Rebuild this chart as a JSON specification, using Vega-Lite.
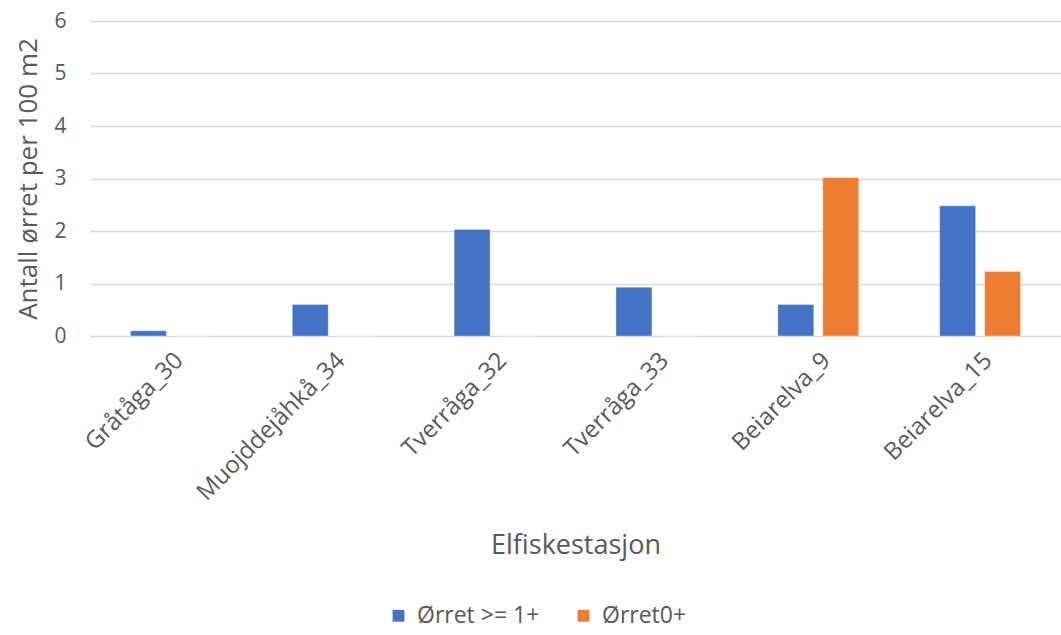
{
  "$schema": "https://vega.github.io/schema/vega-lite/v6.json",
  "width": 971,
  "height": 315,
  "autosize": {"type": "none"},
  "padding": {"left": 90, "top": 21, "right": 0, "bottom": 299},
  "background": "white",
  "config": {
    "font": "Open Sans",
    "view": {"stroke": null},
    "axis": {"labelColor": "#595959", "titleColor": "#595959", "labelFont": "Open Sans", "titleFont": "Open Sans", "titleFontWeight": "normal"}
  },
  "data": {
    "values": [
      {"stasjon": "Gråtåga_30", "serie": "Ørret >= 1+", "verdi": 0.1},
      {"stasjon": "Gråtåga_30", "serie": "Ørret0+", "verdi": 0},
      {"stasjon": "Muojddejåhkå_34", "serie": "Ørret >= 1+", "verdi": 0.6},
      {"stasjon": "Muojddejåhkå_34", "serie": "Ørret0+", "verdi": 0},
      {"stasjon": "Tverråga_32", "serie": "Ørret >= 1+", "verdi": 2.03},
      {"stasjon": "Tverråga_32", "serie": "Ørret0+", "verdi": 0},
      {"stasjon": "Tverråga_33", "serie": "Ørret >= 1+", "verdi": 0.93},
      {"stasjon": "Tverråga_33", "serie": "Ørret0+", "verdi": 0},
      {"stasjon": "Beiarelva_9", "serie": "Ørret >= 1+", "verdi": 0.6},
      {"stasjon": "Beiarelva_9", "serie": "Ørret0+", "verdi": 3.02},
      {"stasjon": "Beiarelva_15", "serie": "Ørret >= 1+", "verdi": 2.48},
      {"stasjon": "Beiarelva_15", "serie": "Ørret0+", "verdi": 1.23}
    ]
  },
  "mark": {"type": "bar", "stroke": "#ffffff", "strokeWidth": 0.6, "strokeOpacity": 0.6},
  "encoding": {
    "x": {
      "field": "stasjon",
      "type": "nominal",
      "sort": null,
      "scale": {"paddingInner": 0.5, "paddingOuter": 0.25},
      "axis": {
        "title": "Elfiskestasjon",
        "titleFontSize": 27,
        "titlePadding": 28,
        "labelAngle": -45,
        "labelFontSize": 24,
        "labelPadding": 12,
        "labelOverlap": false,
        "labelLimit": 400,
        "domain": false,
        "ticks": false,
        "grid": false
      }
    },
    "xOffset": {
      "field": "serie",
      "type": "nominal",
      "scale": {"paddingInner": 0.2, "paddingOuter": 0}
    },
    "y": {
      "field": "verdi",
      "type": "quantitative",
      "scale": {"domain": [0, 6], "nice": false},
      "axis": {
        "title": "Antall ørret  per 100 m2",
        "titleFontSize": 26,
        "titlePadding": 12,
        "labelFontSize": 21,
        "labelPadding": 24,
        "values": [0, 1, 2, 3, 4, 5, 6],
        "labelOverlap": false,
        "domain": false,
        "ticks": false,
        "grid": true,
        "gridColor": "#d9d9d9",
        "gridWidth": 1.5
      }
    },
    "color": {
      "field": "serie",
      "type": "nominal",
      "scale": {"domain": ["Ørret >= 1+", "Ørret0+"], "range": ["#4472C4", "#ED7D31"]},
      "legend": {
        "title": null,
        "orient": "none",
        "direction": "horizontal",
        "legendX": 297,
        "legendY": 583,
        "symbolType": "square",
        "symbolSize": 140,
        "symbolStrokeWidth": 0,
        "labelFontSize": 23,
        "labelColor": "#595959",
        "labelFont": "Open Sans",
        "labelOffset": 7,
        "columnPadding": 32
      }
    }
  }
}
